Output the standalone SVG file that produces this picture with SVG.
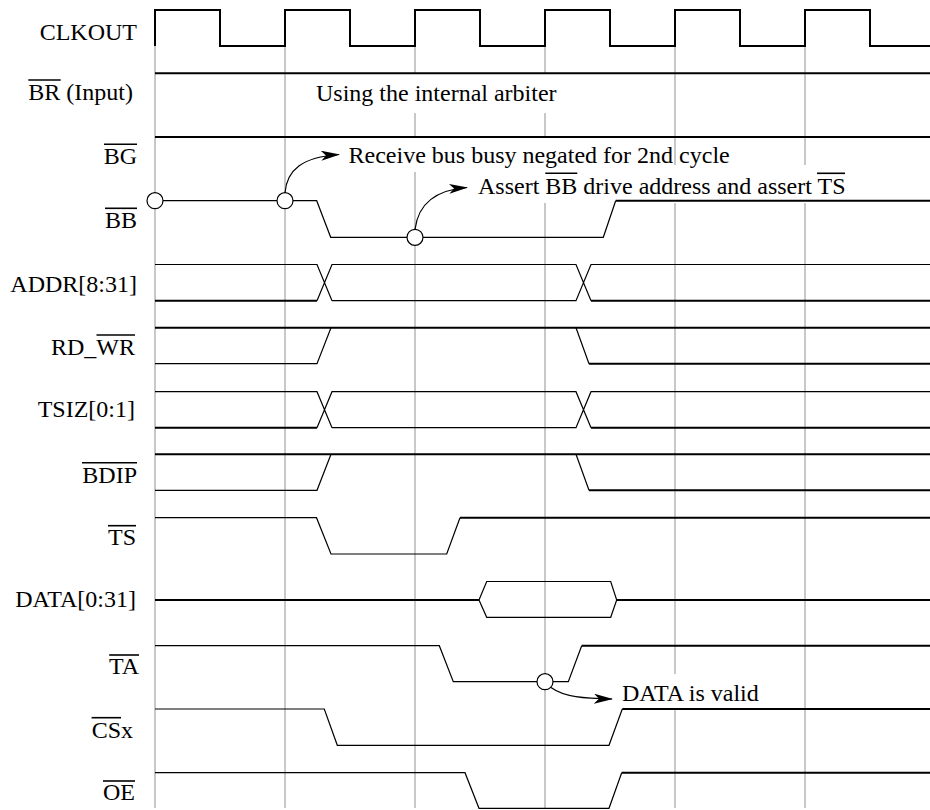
<svg xmlns="http://www.w3.org/2000/svg" width="930" height="810" viewBox="0 0 930 810">
<style>
.t{font-family:'Liberation Serif','Times New Roman',Times,serif;font-size:24px;fill:#000}
.lbl{text-anchor:end}
.grid{stroke:#ababab;stroke-width:1.3;fill:none}
.thin{stroke:#000;stroke-width:1.2;fill:none}
.thick{stroke:#000;stroke-width:2;fill:none}
.ov{stroke:#000;stroke-width:1.6}
.pt{fill:#fff;stroke:#000;stroke-width:1.2}
.arr{stroke:#000;stroke-width:1.2;fill:none;marker-end:url(#ah)}
</style>
<defs>
<marker id="ah" markerUnits="userSpaceOnUse" markerWidth="19" markerHeight="10" viewBox="0 0 19 10" refX="18" refY="5" orient="auto">
<path d="M0,0 L19,5 L0,10 L5,5 Z" fill="#000"/>
</marker>
</defs>
<rect width="930" height="810" fill="#fff"/>
<g id="grid">
<path class="grid" d="M155,46V808 M285,46V808 M415,46V73 M415,113V137 M415,172V808 M545,46V73 M545,113V137 M545,203V808 M675,46V165 M675,203V674 M675,709V808 M805,46V165 M805,203V808"/>
</g>
<g font-family="Liberation Serif, serif" font-size="24">
<g id="clkout">
<text class="t lbl" x="137" y="40">CLKOUT</text>
<path class="thick" d="M155,46V10H220V46H285V10H350V46H415V10H480V46H545V10H610V46H675V10H740V46H805V10H870V46H930"/>
</g>
<g id="br">
<text class="t lbl" x="133" y="100">BR (Input)</text>
<line class="ov" x1="28.3" y1="80" x2="60.7" y2="80"/>
<path class="thick" d="M155,73.3H930"/>
<text class="t" x="316" y="100.7">Using the internal arbiter</text>
</g>
<g id="bg">
<text class="t lbl" x="137" y="164">BG</text>
<line class="ov" x1="104" y1="144.3" x2="137" y2="144.3"/>
<path class="thick" d="M155,137H930"/>
</g>
<g id="bb">
<text class="t lbl" x="137" y="228">BB</text>
<line class="ov" x1="105" y1="208.3" x2="137" y2="208.3"/>
<path class="thin" d="M155,200.7H316.7L330.7,237.3H603.3L615.7,200.7"/>
<path class="thick" d="M615.7,200.7H930"/>
<circle class="pt" cx="155" cy="200.7" r="8"/>
<circle class="pt" cx="285" cy="200.7" r="8"/>
<circle class="pt" cx="415" cy="237.3" r="8"/>
</g>
<g id="addr">
<text class="t lbl" x="137" y="292">ADDR[8:31]</text>
<path class="thin" d="M155,264.5H317L332,300.7 M317,300.7L332,264.5H576L591,300.7 M332,300.7H576L591,264.5H930"/>
<path class="thick" d="M155,300.7H317 M591,300.7H930"/>
</g>
<g id="rdwr">
<text class="t lbl" x="135" y="355">RD_WR</text>
<line class="ov" x1="96.5" y1="335" x2="135" y2="335"/>
<path class="thick" d="M155,327.7H930"/>
<path class="thin" d="M155,363.7H317L331,327.7 M576,327.7L589,363.7"/>
<path class="thick" d="M589,363.7H930"/>
</g>
<g id="tsiz">
<text class="t lbl" x="135" y="417">TSIZ[0:1]</text>
<path class="thin" d="M155,391.7H317L332,427.7 M317,427.7L332,391.7H576L591,427.7 M332,427.7H576L591,391.7H930"/>
<path class="thick" d="M155,427.7H317 M591,427.7H930"/>
</g>
<g id="bdip">
<text class="t lbl" x="137" y="483">BDIP</text>
<line class="ov" x1="82" y1="462.7" x2="137" y2="462.7"/>
<path class="thick" d="M155,454.3H930"/>
<path class="thin" d="M155,490.3H317L331,454.3 M576,454.3L589,490.3"/>
<path class="thick" d="M589,490.3H930"/>
</g>
<g id="ts">
<text class="t lbl" x="136" y="545">TS</text>
<line class="ov" x1="108" y1="525.7" x2="136" y2="525.7"/>
<path class="thin" d="M155,517.7H316.5L331,554H446.7L460,517.7"/>
<path class="thick" d="M460,517.7H930"/>
</g>
<g id="data">
<text class="t lbl" x="136" y="607">DATA[0:31]</text>
<path class="thick" d="M155,600H479 M616.7,600H930"/>
<path class="thin" d="M479,600L486.7,581.5H610.7L616.7,600L610.7,617.3H486.7Z"/>
</g>
<g id="ta">
<text class="t lbl" x="139" y="674">TA</text>
<line class="ov" x1="109.2" y1="655" x2="139" y2="655"/>
<path class="thin" d="M155,645.7H439.3L453.3,681.7H568.3L581.7,645.7"/>
<path class="thick" d="M581.7,645.7H930"/>
<circle class="pt" cx="545" cy="681.7" r="8"/>
<text class="t" x="622" y="700.7">DATA is valid</text>
</g>
<g id="csx">
<text class="t lbl" x="133" y="738">CSx</text>
<line class="ov" x1="91.6" y1="717.7" x2="121" y2="717.7"/>
<path class="thin" d="M155,709H324.3L337.3,745.3H609L622.3,709"/>
<path class="thick" d="M622.3,709H930"/>
</g>
<g id="oe">
<text class="t lbl" x="135" y="800">OE</text>
<line class="ov" x1="103" y1="781" x2="135" y2="781"/>
<path class="thin" d="M155,772.7H465L479,808.3H609L621.7,772.7"/>
<path class="thick" d="M621.7,772.7H930"/>
</g>
<g id="notes">
<text class="t" x="348.5" y="162.5">Receive bus busy negated for 2nd cycle</text>
<text class="t" x="478" y="193.5">Assert BB drive address and assert TS</text>
<line class="ov" x1="545.3" y1="173.3" x2="577.3" y2="173.3"/>
<line class="ov" x1="817" y1="173.3" x2="845" y2="173.3"/>
</g>
</g>
<g id="connectors">
<path class="arr" d="M285,192.7C287,170 302,157 339,154.5"/>
<path class="arr" d="M415,229.3C418,206 433,190 467,187.5"/>
<path class="arr" d="M551,687.5C564,697 584,698.5 612,699"/>
</g>
</svg>
